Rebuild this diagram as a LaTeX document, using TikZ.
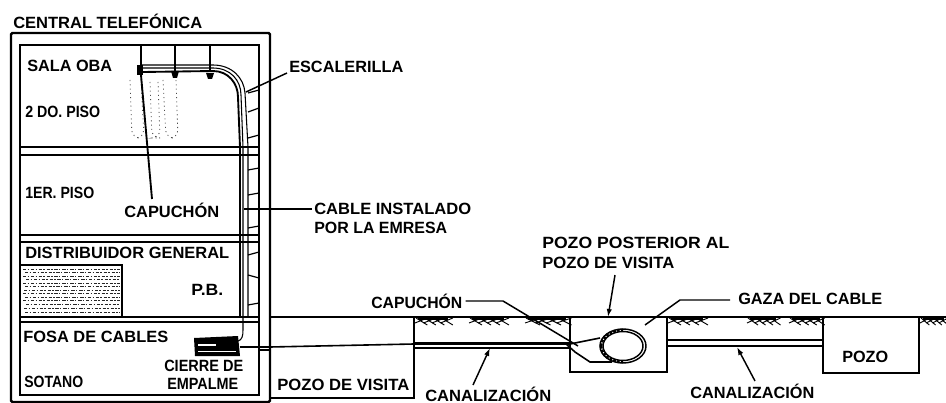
\documentclass[tikz,border=0pt]{standalone}
\usepackage{fontspec}
\usepackage{graphicx}
\setmainfont{Liberation Sans}
\usetikzlibrary{arrows.meta}
\newdimen\pxu \pxu=.75pt
\newcommand\WW[2]{\resizebox{#1\pxu}{\height}{#2}}
\tikzset{
  lbl/.style={anchor=west,inner sep=0pt,font=\bfseries\fontsize{12.2pt}{14pt}\selectfont,text=black},
  wall/.style={draw=black,line width=1.8pt},
  thin wall/.style={draw=black,line width=1.4pt},
  leader/.style={draw=black,line width=1.1pt},
  arrowed/.style={leader,-{Latex[length=6pt,width=4pt]}},
  rung/.style={draw=black,line width=.9pt},
  tray/.style={draw=black,line width=.8pt},
  speck/.style={draw=black!70,line width=.6pt,dash pattern=on .8pt off 2.4pt},
  panel/.style={draw=black!85,line width=.7pt,dash pattern=on 2.6pt off .9pt on 1pt off 1.4pt},
  grass/.style={draw=black,line width=.7pt}
}
\begin{document}
\begin{tikzpicture}[x=.75pt,y=-.75pt]
\useasboundingbox (0,0) rectangle (946,403);
\fill[white] (0,0) rectangle (946,403);
% building
\draw[wall,rounded corners=1pt] (11,33) rectangle (270,402);
\draw[wall] (20,45) rectangle (259,395);
\draw[thin wall] (20,147) -- (259,147) (20,155) -- (259,155);
\draw[thin wall] (20,235) -- (259,235) (20,242) -- (259,242);
\draw[thin wall] (20,317) -- (259,317) (20,322) -- (259,322);
% distribuidor panel
\draw[wall] (21,265) -- (122,265) -- (122,316);
\foreach \yy/\xs in {269/23,272/25,276/23,279/26,283/23,286/25,290/24,293/23,297/25,300/23,304/26,308/24,312/25}{
  \draw[panel] (\xs,\yy) -- (120,\yy);
}
% hanging cable loops
\draw[speck,rounded corners=6pt] (130,80) -- (132,138) -- (144,138) -- (141,80);
\draw[speck,rounded corners=6pt] (150,82) -- (152,138) -- (160,138) -- (158,82);
\draw[speck,rounded corners=6pt] (163,80) -- (166,138) -- (178,138) -- (176,80);
% drops
\draw[line width=1.8pt] (141,45) -- (141,72);
\draw[line width=1.5pt] (175,45) -- (175,72);
\draw[line width=1.3pt] (210,45) -- (210,72);
\fill (137,65) rectangle (143,75);
\fill (171,71) -- (179,71) -- (177,78) -- (173,78) -- cycle;
\fill (206,73) -- (214,73) -- (212,79) -- (208,79) -- cycle;
% tray
\draw[tray] (142,65) -- (213,65) .. controls (232,65) and (244,78) .. (245,93) -- (248,147) -- (248,317);
\draw[tray,line width=1.4pt] (143,72) -- (213,71) .. controls (228,71) and (238,83) .. (238,97) -- (240,147) -- (240,317);
\draw[tray] (142,68) -- (213,68) .. controls (230,68) and (241,80) .. (241,95) -- (243,147) -- (243,330) .. controls (243,336) and (242,340) .. (238,341);
% ladder rungs
\foreach \ya/\yb in {93/90,112/108,138/135,170/168,195/193,228/226,255/252,275/278,305/303}{
  \draw[rung] (248,\ya) -- (259,\yb);
}
% closure
\fill (194,338) -- (238,336) -- (240,356) -- (195,356) -- cycle;
\draw[white,line width=.8pt] (198,345) -- (216,345);
\draw[white,line width=.5pt] (198,351) -- (236,351);
% ground
\draw[thin wall] (270,317) -- (946,317);
% pozo de visita
\draw[thin wall] (270,398) -- (414,398) -- (414,317);
% pozo posterior
\draw[wall] (570,317) -- (570,372) -- (667,372) -- (667,317);
% pozo right
\draw[wall] (823,317) -- (823,373) -- (919,373) -- (919,317);
% canalizations
\draw[thin wall] (414,343) -- (570,343) (414,348) -- (570,348);
\draw[thin wall] (667,340) -- (823,340) (667,346) -- (823,346);
% main cable
\draw[line width=1.2pt] (240,347) -- (270,347) -- (414,344) -- (570,344) -- (600,338);
\draw[line width=.8pt] (259,350) -- (270,350);
\draw[line width=1.2pt] (565,343) -- (575,352) -- (590,362) -- (612,362);
% loop
\coordinate (loopc) at (623,346);
\draw[line width=1.1pt] (loopc) ellipse [x radius=23,y radius=17];
\draw[line width=1.1pt] (loopc) ellipse [x radius=20,y radius=14.5];
\draw[line width=2pt,densely dotted] (loopc) ++(-22,0) arc[start angle=180,end angle=270,x radius=22,y radius=16];
\draw[line width=2pt,densely dotted] (loopc) ++(-22,0) arc[start angle=180,end angle=90,x radius=22,y radius=16];
% grass
\foreach \gx/\gw in {416/34,470/36,526/42,669/36,748/30,790/32,921/25}{
  \foreach \i in {0,1,2,3}{
    \draw[grass] (\gx+\i*\gw/4,318) -- (\gx+\i*\gw/4+\gw/3,325);
    \draw[grass] (\gx+\i*\gw/4+\gw/3,318) -- (\gx+\i*\gw/4-1,323);
  }
  \draw[grass,line width=1.2pt] (\gx+2,319) -- (\gx+\gw-2,319);
}
% labels
\node[lbl] (central) at (13,21) {\WW{189}{CENTRAL TELEFÓNICA}};
\node[lbl] (sala) at (27,66) {\WW{85}{SALA OBA}};
\node[lbl] (dos) at (25,112) {\WW{75}{2 DO. PISO}};
\node[lbl] (uno) at (25,193) {\WW{69}{1ER. PISO}};
\node[lbl] (capa) at (124,210) {\WW{95}{CAPUCHÓN}};
\node[lbl] (dist) at (25,253) {\WW{204}{DISTRIBUIDOR GENERAL}};
\node[lbl] (pb) at (191,290) {\WW{32}{P.B.}};
\node[lbl] (fosa) at (23,337) {\WW{145}{FOSA DE CABLES}};
\node[lbl] (cierre) at (164,366) {\WW{79}{CIERRE DE}};
\node[lbl] (empalme) at (167,384) {\WW{71}{EMPALME}};
\node[lbl] (sotano) at (24,382) {\WW{59}{SOTANO}};
\node[lbl] (esc) at (289,67) {\WW{114}{ESCALERILLA}};
\node[lbl] (cable) at (314,209) {\WW{157}{CABLE INSTALADO}};
\node[lbl] (por) at (314,228) {\WW{133}{POR LA EMRESA}};
\node[lbl] (pozopa) at (542,243) {\WW{187}{POZO POSTERIOR AL}};
\node[lbl] (pozopb) at (542,263) {\WW{132}{POZO DE VISITA}};
\node[lbl] (capb) at (371,301) {\WW{91}{CAPUCHÓN}};
\node[lbl] (gaza) at (738,299) {\WW{144}{GAZA DEL CABLE}};
\node[lbl] (pozov) at (277,385) {\WW{132}{POZO DE VISITA}};
\node[lbl] (cana) at (425,394) {\WW{126}{CANALIZACIÓN}};
\node[lbl] (canb) at (690,391) {\WW{124}{CANALIZACIÓN}};
\node[lbl] (pozo) at (842,357) {\WW{46}{POZO}};
% leader ends
\coordinate (capTip) at (141,75);
\coordinate (escTip) at (246,92);
\coordinate (cableTip) at (244,209);
\coordinate (postTip) at (608,317);
\coordinate (capbTip) at (578,346);
\coordinate (gazaTip) at (645,325);
\coordinate (canaTip) at (490,348);
\coordinate (canbTip) at (737,347);
% leaders
\draw[leader,line width=1.4pt] (capTip) -- (152,199);
\draw[leader] (esc.west) ++(-2,6) -- (escTip);
\draw[leader] (cable.west) ++(-2,0) -- (cableTip);
\draw[arrowed] (615,275) -- (postTip);
\draw[leader] (capb.east) ++(3,0) -- (503,301) -- (capbTip);
\draw[leader] (gaza.west) ++(-8,1) -- (680,300) -- (gazaTip);
\draw[arrowed] (473,385) -- (canaTip);
\draw[arrowed] (755,381) -- (canbTip);
\end{tikzpicture}
\end{document}
